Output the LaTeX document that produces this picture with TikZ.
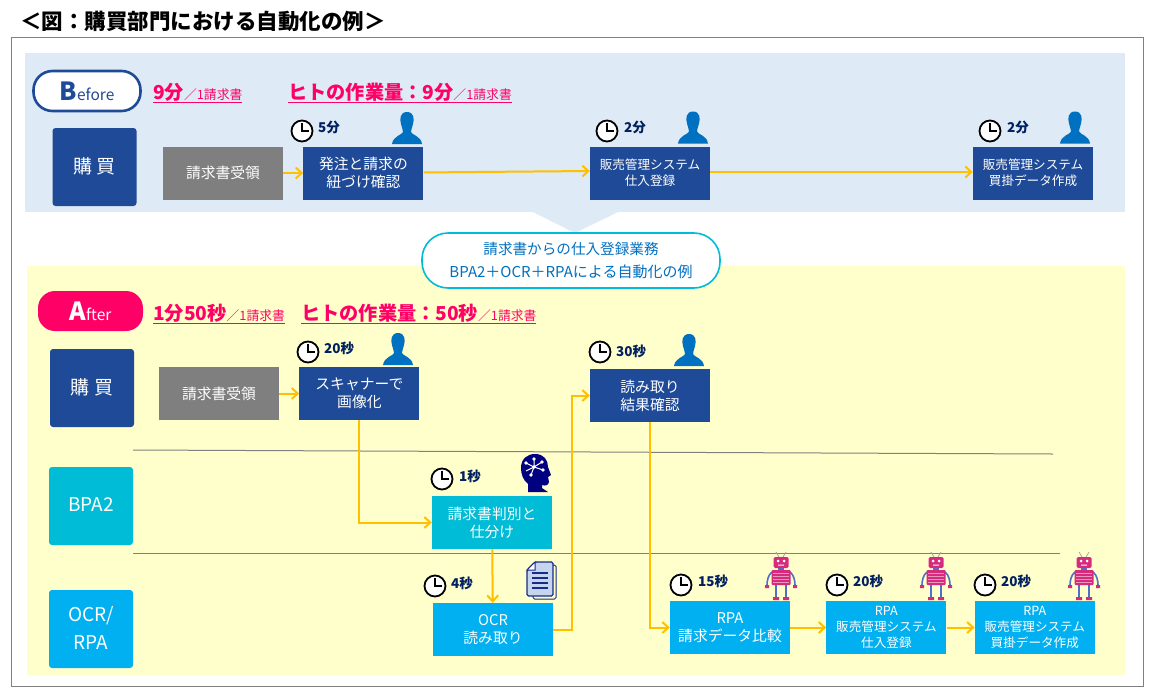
\documentclass[tikz,border=0pt]{standalone}
\usepackage{fontspec}
\setmainfont{Noto Sans CJK JP}
\usetikzlibrary{arrows.meta,positioning}

\definecolor{navybox}{HTML}{1F4A97}
\definecolor{cyanbox}{HTML}{00BCD6}
\definecolor{skybox}{HTML}{00B0F0}
\definecolor{grayflow}{HTML}{7F7F7F}
\definecolor{flowline}{HTML}{FFC000}
\definecolor{pinkmark}{HTML}{FF0066}
\definecolor{timeink}{HTML}{002060}
\definecolor{personblue}{HTML}{0070C0}
\definecolor{robotpink}{HTML}{D62A7C}
\definecolor{robotblue}{HTML}{4F70C8}
\definecolor{beforeband}{HTML}{DEEAF6}
\definecolor{afterband}{HTML}{FFFFCC}
\definecolor{brainink}{HTML}{000080}
\definecolor{docink}{HTML}{1A2A8A}
\definecolor{docfill}{HTML}{C5D5EE}

\newcommand{\fsz}[1]{\fontsize{#1}{#1}\selectfont}
\newcommand{\worklabel}[1]{\underline{{\fsz{19.2}\bfseries #1}{\fsz{12.8}／1請求書}}}

\begin{document}
\begin{tikzpicture}[
  x=1pt, y=-1pt,
  flowbox/.style={align=center, text=white, minimum width=120pt, minimum height=53pt, inner sep=0pt, font=\fontsize{14.8}{18}\selectfont},
  smallbox/.style={flowbox, font=\fontsize{12.6}{16}\selectfont},
  navy/.style={fill=navybox},
  grayed/.style={fill=grayflow},
  cyaned/.style={fill=cyanbox},
  skyed/.style={fill=skybox},
  rowbox/.style={rounded corners=3pt, align=center, text=white, minimum width=84pt, minimum height=78pt, inner sep=0pt, font=\fontsize{19}{28}\selectfont},
  flow/.style={-{Straight Barb[length=6pt,width=11pt]}, flowline, line width=2pt},
  sep/.style={draw=gray, line width=1pt},
  tag/.style={inner sep=0pt, anchor=west, text=pinkmark},
  timelabel/.style={inner sep=0pt, anchor=west, text=timeink, font=\fsz{13.5}\bfseries},
  clock/.pic={
    \draw[black, fill=white, line width=1.8pt] (0,0) circle (10.5);
    \draw[black, line width=2pt] (0,-8) -- (0,0) -- (7,0);
  },
  person/.pic={
    \fill[personblue] (0,0) .. controls (-7,0) and (-7.5,7) .. (-6,12) .. controls (-5,16) and (-4,18) .. (-4,20)
      .. controls (-5,23) and (-14,24) .. (-15,32) -- (15,32) .. controls (14,24) and (5,23) .. (4,20)
      .. controls (4,18) and (5,16) .. (6,12) .. controls (7.5,7) and (7,0) .. (0,0) -- cycle;
  },
  brain/.pic={
    \fill[brainink] (7,38) -- (7,30) .. controls (2,26) and (0,20) .. (0,14) .. controls (0,5) and (6,0) .. (14,0)
      .. controls (23,0) and (27,6) .. (27,13) -- (30,21) -- (27,23) -- (28,28) .. controls (27,32) and (24,32) .. (21,31)
      -- (21,34) -- (27,38) -- cycle;
    \draw[white, line width=1pt] (13,13) -- (13,5) (13,13) -- (5,9) (13,13) -- (21,8) (13,13) -- (22,16) (13,13) -- (10,21) (13,13) -- (5,17);
    \foreach \px/\py in {13/5,5/9,21/8,22/16,10/21,13/13}
      \fill[white] (\px,\py) circle (1.8);
  },
  docstack/.pic={
    \draw[docink, line width=1pt, rounded corners=1.5pt] (26,3) -- (29,3) -- (29,37) -- (6,37) -- (6,34);
    \draw[docink, fill=docfill, line width=1.2pt, rounded corners=1.5pt] (8,0) -- (26,0) -- (26,34) -- (0,34) -- (0,8) -- cycle;
    \draw[docink, fill=white, line width=1pt] (8,0) -- (8,8) -- (0,8) -- cycle;
    \foreach \py in {11,16,21,26}
      \draw[docink, line width=1.2pt] (5,\py) -- (21,\py);
  },
  robot/.pic={
    \draw[gray!70, line width=.8pt] (-2,6) -- (-5,1) (2,6) -- (5,1);
    \draw[robotblue, line width=1.6pt] (-9,21) .. controls (-13,24) and (-14,30) .. (-14,34);
    \draw[robotblue, line width=1.6pt] (9,21) .. controls (13,24) and (14,30) .. (14,34);
    \fill[robotpink] (-16,34) rectangle (-12,37) (12,34) rectangle (16,37);
    \draw[robotblue, line width=2pt] (-5,33) -- (-5,46) (5,33) -- (5,46);
    \fill[robotpink] (-8,46) rectangle (-2,49) (2,46) rectangle (8,49);
    \fill[robotblue] (-3,16) rectangle (3,20);
    \fill[robotpink, rounded corners=1.5pt] (-7.5,6) rectangle (7.5,17);
    \fill[white] (-3,10) circle (1.5) (3,10) circle (1.5) (-3,13.5) rectangle (3,14.5);
    \fill[robotpink, rounded corners=1pt] (-9.5,19) rectangle (9.5,34);
    \foreach \py in {22,25,28,31}
      \fill[robotpink!50!white] (-8,\py) rectangle (8,\py+1);
  }
]
\useasboundingbox (0,0) rectangle (1155,699);

% title and frame
\node[inner sep=0pt, anchor=west, font=\fsz{21.5}\bfseries] (title) at (20,21) {＜図：購買部門における自動化の例＞};
\draw[gray, line width=1pt] (11,37) rectangle (1143,686);

% bands
\fill[beforeband] (25,53) rectangle (1125,212);
\fill[beforeband] (533,212) -- (618,212) -- (575,233) -- cycle;
\fill[afterband] (27,266) rectangle (1125,675);

% separators
\coordinate (sepa) at (133,450);
\coordinate (sepb) at (1053,454);
\coordinate (sepc) at (133,553);
\coordinate (sepd) at (1060,553);
\draw[sep] (sepa) -- (sepb);
\draw[sep] (sepc) -- (sepd);

% callout
\node[draw=cyanbox, fill=white, line width=1.6pt, rounded corners=26pt, minimum width=298pt, minimum height=55pt, inner sep=0pt, align=center, text=personblue, font=\fsz{14.6}] (note) at (571,260.5) {\raisebox{1pt}{請求書からの仕入登録業務}\\[7pt]{\fsz{15}BPA2＋OCR＋RPAによる自動化の例}};

% before
\node[draw=navybox, fill=white, line width=2.6pt, rounded corners=19pt, minimum width=107pt, minimum height=40pt, inner sep=0pt, text=navybox] (before) at (87,91) {{\fsz{25}\bfseries B}{\fsz{15.5}efore}};
\node[tag] (beforetotal) at (153,93) {\worklabel{9分}};
\node[tag] (beforework) at (288,93) {\worklabel{ヒトの作業量：9分}};
\node[rowbox, navy] (buyb) at (94.5,167) {\raisebox{3pt}{購 買}};
\node[flowbox, grayed] (recvb) at (223,173) {請求書受領};
\node[flowbox, navy, right=20pt of recvb] (orderb) {発注と請求の\\紐づけ確認};
\node[smallbox, navy] (salesb) at (650,173) {販売管理システム\\仕入登録};
\node[smallbox, navy] (apb) at (1033,173) {販売管理システム\\買掛データ作成};
\draw[flow] (recvb) -- (orderb);
\draw[flow] (orderb) -- ([yshift=2pt]salesb.west);
\draw[flow] ([yshift=1pt]salesb.east) -- ([yshift=1pt]apb.west);
\pic at (302,131) {clock};
\node[timelabel] (tb1) at (318,127) {5分};
\pic at (407,112) {person};
\pic at (607,131) {clock};
\node[timelabel] (tb2) at (624,127) {2分};
\pic at (693,111.5) {person};
\pic at (990,131) {clock};
\node[timelabel] (tb3) at (1007,127) {2分};
\pic at (1075,111.5) {person};

% after
\node[fill=pinkmark, rounded corners=17pt, minimum width=105pt, minimum height=40pt, inner sep=0pt, text=white] (after) at (90.5,311) {{\fsz{25}\bfseries A}{\fsz{15.5}fter}};
\node[tag] (aftertotal) at (153,314) {\worklabel{1分50秒}};
\node[tag] (afterwork) at (301,314) {\worklabel{ヒトの作業量：50秒}};
\node[rowbox, navy] (buya) at (92,388) {\raisebox{3pt}{購 買}};
\node[rowbox, cyaned] (bpa) at (91,506) {\raisebox{2pt}{BPA2}};
\node[rowbox, skyed] (ocrrpa) at (91,629) {\raisebox{2pt}{OCR/}\\\raisebox{2pt}{RPA}};
\node[flowbox, grayed] (recva) at (219,393.5) {請求書受領};
\node[flowbox, navy, right=20pt of recva] (scan) {スキャナーで\\画像化};
\node[flowbox, navy] (check) at (650,395.5) {読み取り\\結果確認};
\node[flowbox, cyaned] (judge) at (492,522.5) {請求書判別と\\仕分け};
\node[flowbox, skyed] (ocrread) at (493,629.5) {OCR\\読み取り};
\node[flowbox, skyed] (rpacmp) at (730,627.5) {RPA\\請求データ比較};
\node[smallbox, skyed, right=36pt of rpacmp] (rpasales) {RPA\\販売管理システム\\仕入登録};
\node[smallbox, skyed, right=28pt of rpasales] (rpaap) {RPA\\販売管理システム\\買掛データ作成};
\draw[flow] (recva) -- (scan);
\draw[flow] (scan.south) |- (judge.west);
\draw[flow] (judge) -- (ocrread);
\draw[flow] (ocrread.east) -- ++(19,0) |- (check.west);
\draw[flow] (check.south) |- (rpacmp.west);
\draw[flow] (rpacmp) -- (rpasales);
\draw[flow] (rpasales) -- (rpaap);
\pic at (308,352) {clock};
\node[timelabel] (ta1) at (324,348) {20秒};
\pic at (398,333) {person};
\pic at (600,352) {clock};
\node[timelabel] (ta2) at (616,351) {30秒};
\pic at (689,334) {person};
\pic at (442,479) {clock};
\node[timelabel] (ta3) at (459,476) {1秒};
\pic at (521,454) {brain};
\pic at (435,586) {clock};
\node[timelabel] (ta4) at (451,583) {4秒};
\pic at (527,562) {docstack};
\pic at (681,585) {clock};
\node[timelabel] (ta5) at (698,581) {15秒};
\pic at (781,551) {robot};
\pic at (837,585) {clock};
\node[timelabel] (ta6) at (853,581) {20秒};
\pic at (936,551) {robot};
\pic at (985,585) {clock};
\node[timelabel] (ta7) at (1001,581) {20秒};
\pic at (1084,551) {robot};
\end{tikzpicture}
\end{document}
